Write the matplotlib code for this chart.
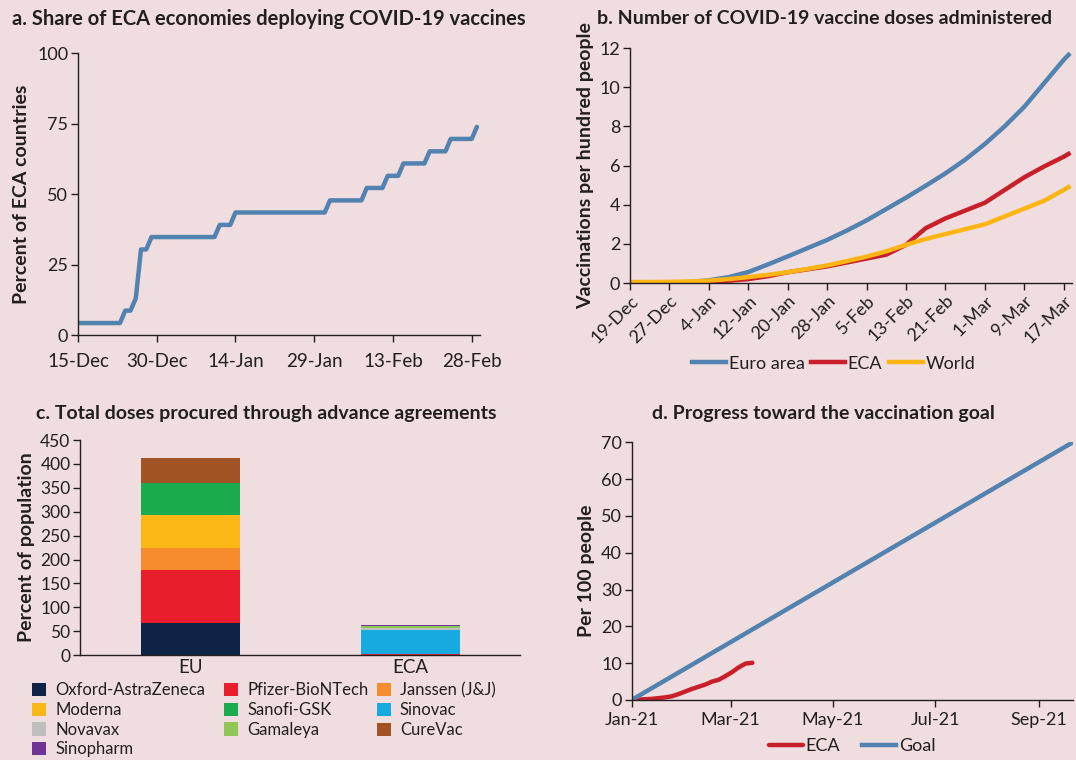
import pandas as pd
import matplotlib.pyplot as plt
from matplotlib.patches import Patch

# ---- panel a: share of ECA economies deploying vaccines (daily, %) ----
a_start = '2020-12-15'
a_share = [4.3, 4.3, 4.3, 4.3, 4.3, 4.3, 4.3, 4.3, 4.3, 8.7,
           8.7, 13.0, 30.4, 30.4, 34.8, 34.8, 34.8, 34.8, 34.8, 34.8,
           34.8, 34.8, 34.8, 34.8, 34.8, 34.8, 34.8, 39.1, 39.1, 39.1,
           43.5, 43.5, 43.5, 43.5, 43.5, 43.5, 43.5, 43.5, 43.5, 43.5,
           43.5, 43.5, 43.5, 43.5, 43.5, 43.5, 43.5, 43.5, 47.8, 47.8,
           47.8, 47.8, 47.8, 47.8, 47.8, 52.2, 52.2, 52.2, 52.2, 56.5,
           56.5, 56.5, 60.9, 60.9, 60.9, 60.9, 60.9, 65.2, 65.2, 65.2,
           65.2, 69.6, 69.6, 69.6, 69.6, 69.6, 73.9]
a_ticks = ['2020-12-15', '2020-12-30', '2021-01-14', '2021-01-29', '2021-02-13', '2021-02-28']
a_ticklabels = ['15-Dec', '30-Dec', '14-Jan', '29-Jan', '13-Feb', '28-Feb']

# ---- panel b: vaccine doses administered per hundred people ----
b_dates = ['2020-12-19', '2020-12-23', '2020-12-27', '2020-12-31', '2021-01-04', '2021-01-08',
           '2021-01-12', '2021-01-16', '2021-01-20', '2021-01-24', '2021-01-28', '2021-02-01',
           '2021-02-05', '2021-02-09', '2021-02-13', '2021-02-17', '2021-02-21', '2021-02-25',
           '2021-03-01', '2021-03-05', '2021-03-09', '2021-03-13', '2021-03-17', '2021-03-18']
b_euro = [0, 0, 0.02, 0.05, 0.14, 0.3, 0.56, 0.95, 1.36, 1.78, 2.2, 2.68, 3.2, 3.78, 4.36,
          4.97, 5.6, 6.3, 7.1, 8.0, 9.0, 10.2, 11.4, 11.66]
b_eca = [0, 0, 0, 0.02, 0.07, 0.12, 0.2, 0.35, 0.55, 0.7, 0.85, 1.05, 1.25, 1.45, 1.95,
         2.8, 3.3, 3.7, 4.1, 4.75, 5.4, 5.95, 6.45, 6.6]
b_world = [0.05, 0.05, 0.06, 0.08, 0.12, 0.2, 0.3, 0.42, 0.55, 0.72, 0.9, 1.12, 1.35, 1.62,
           1.95, 2.25, 2.5, 2.75, 3.0, 3.4, 3.8, 4.2, 4.75, 4.9]
b_ticks = ['2020-12-19', '2020-12-27', '2021-01-04', '2021-01-12', '2021-01-20', '2021-01-28',
           '2021-02-05', '2021-02-13', '2021-02-21', '2021-03-01', '2021-03-09', '2021-03-17']
b_ticklabels = ['19-Dec', '27-Dec', '4-Jan', '12-Jan', '20-Jan', '28-Jan',
                '5-Feb', '13-Feb', '21-Feb', '1-Mar', '9-Mar', '17-Mar']

# ---- panel c: total doses procured (percent of population) ----
c_groups = ['EU', 'ECA']
c_vaccines = ['Oxford-AstraZeneca', 'Pfizer-BioNTech', 'Janssen (J&J)', 'Moderna', 'Sanofi-GSK',
              'Sinovac', 'Novavax', 'Gamaleya', 'CureVac', 'Sinopharm']
c_eu = [67, 111, 46, 69, 67, 0, 0, 0, 52, 0]
c_eca = [0, 3, 0, 0, 0, 50, 4, 3, 0, 4]
c_colors = ['#0e2346', '#ea1d2c', '#f68c2e', '#fbb716', '#1aab4c', '#17aae0',
            '#bebebe', '#8fc655', '#a15323', '#6e3597']

# ---- panel d: progress toward the vaccination goal ----
d_dates = ['2021-01-01', '2021-01-05', '2021-01-09', '2021-01-13', '2021-01-17', '2021-01-21',
           '2021-01-25', '2021-01-29', '2021-02-02', '2021-02-06', '2021-02-10', '2021-02-14',
           '2021-02-18', '2021-02-22', '2021-02-26', '2021-03-02', '2021-03-06', '2021-03-10',
           '2021-03-14']
d_eca = [0, 0.1, 0.2, 0.3, 0.5, 0.7, 1.0, 1.6, 2.3, 3.0, 3.6, 4.2, 5.0, 5.5, 6.5, 7.6, 8.9, 9.9, 10.1]
d_goal_dates = ['2021-01-01', '2021-09-21']
d_goal = [0, 70]
d_ticks = ['2021-01-01', '2021-03-01', '2021-05-01', '2021-07-01', '2021-09-01']
d_ticklabels = ['Jan-21', 'Mar-21', 'May-21', 'Jul-21', 'Sep-21']

BG = '#efdde0'
BLUE = '#5282b0'
RED = '#c81f2a'
YELLOW = '#fdb515'
INK = '#231f20'

TITLE_FS = 14
YLABEL_FS = 14
TICK_FS = 13

plt.rcParams['font.family'] = ['Lato', 'DejaVu Sans']
plt.rcParams['text.color'] = INK
plt.rcParams['axes.labelcolor'] = INK
plt.rcParams['xtick.color'] = INK
plt.rcParams['ytick.color'] = INK


def style(ax):
    ax.set_facecolor(BG)
    for s in ['top', 'right']:
        ax.spines[s].set_visible(False)
    for s in ['left', 'bottom']:
        ax.spines[s].set_color(INK)
        ax.spines[s].set_linewidth(1.0)
    ax.tick_params(labelsize=TICK_FS, length=5, width=1, pad=2)


fig = plt.figure(figsize=(10.76, 7.6), dpi=100)
fig.patch.set_facecolor(BG)

# panel a
ax = fig.add_axes([0.0725, 0.559, 0.374, 0.371])
style(ax)
a_x = pd.date_range(a_start, periods=len(a_share), freq='D')
ax.plot(a_x, a_share, color=BLUE, lw=3.2, solid_capstyle='round')
ax.set_ylim(0, 100)
ax.set_yticks([0, 25, 50, 75, 100])
ax.set_xlim(pd.Timestamp('2020-12-15'), pd.Timestamp('2021-03-01 16:00'))
ax.set_xticks(pd.to_datetime(a_ticks))
ax.set_xticklabels(a_ticklabels)
ax.tick_params(axis='x', labelsize=13.5, pad=8)
ax.set_ylabel('Percent of ECA countries', fontsize=YLABEL_FS, fontweight='bold', labelpad=5)
fig.text(0.011, 0.975, 'a. Share of ECA economies deploying COVID-19 vaccines',
         fontsize=14.5, fontweight='bold', va='center', ha='left')

# panel b
ax = fig.add_axes([0.5855, 0.6276, 0.411, 0.309])
style(ax)
bx = pd.to_datetime(b_dates)
ax.plot(bx, b_euro, color=BLUE, lw=3.2, label='Euro area')
ax.plot(bx, b_eca, color=RED, lw=3.2, label='ECA')
ax.plot(bx, b_world, color=YELLOW, lw=3.2, label='World')
ax.set_ylim(0, 12)
ax.set_yticks(range(0, 13, 2))
ax.set_xlim(pd.Timestamp('2020-12-19'), pd.Timestamp('2021-03-18 18:00'))
ax.set_xticks(pd.to_datetime(b_ticks))
ax.set_xticklabels(b_ticklabels, rotation=45, ha='right', rotation_mode='anchor')
ax.set_ylabel('Vaccinations per hundred people', fontsize=YLABEL_FS, fontweight='bold', labelpad=4)
ax.legend(loc='upper center', bbox_to_anchor=(0.46, -0.24), ncol=3, frameon=False,
          fontsize=13, handlelength=1.9, handletextpad=0.15, columnspacing=0.35)
fig.text(0.555, 0.975, 'b. Number of COVID-19 vaccine doses administered',
         fontsize=TITLE_FS, fontweight='bold', va='center', ha='left')

# panel c
ax = fig.add_axes([0.0745, 0.138, 0.409, 0.283])
style(ax)
bottom_eu = 0
bottom_eca = 0
for name, eu, eca, col in zip(c_vaccines, c_eu, c_eca, c_colors):
    ax.bar(c_groups, [eu, eca], width=0.45, bottom=[bottom_eu, bottom_eca], color=col, label=name)
    bottom_eu += eu
    bottom_eca += eca
ax.set_xlim(-0.5, 1.5)
ax.set_ylim(0, 450)
ax.set_yticks(range(0, 451, 50))
ax.tick_params(axis='x', length=0, pad=3, labelsize=13.5)
ax.tick_params(axis='y', labelsize=12.5)
ax.set_ylabel('Percent of population', fontsize=YLABEL_FS, fontweight='bold', labelpad=4)
fig.text(0.033, 0.456, 'c. Total doses procured through advance agreements',
         fontsize=TITLE_FS, fontweight='bold', va='center', ha='left')

# legend below panel c: three columns, read row by row
col_x = [0.030, 0.208, 0.350]
for k, x0 in enumerate(col_x):
    idx = list(range(k, len(c_vaccines), 3))
    handles = [Patch(facecolor=c_colors[i], label=c_vaccines[i]) for i in idx]
    fig.legend(handles=handles, loc='upper left', bbox_to_anchor=(x0, 0.102),
               frameon=False, fontsize=12, handlelength=0.85, handleheight=0.85,
               handletextpad=0.55, labelspacing=0.22, borderaxespad=0, borderpad=0)

# panel d
ax = fig.add_axes([0.587, 0.079, 0.41, 0.339])
style(ax)
ax.plot(pd.to_datetime(d_dates), d_eca, color=RED, lw=3.2, label='ECA', solid_capstyle='round')
ax.plot(pd.to_datetime(d_goal_dates), d_goal, color=BLUE, lw=3.2, label='Goal')
ax.set_ylim(0, 70)
ax.set_yticks(range(0, 71, 10))
ax.set_xlim(pd.Timestamp('2021-01-01'), pd.Timestamp('2021-09-21'))
ax.set_xticks(pd.to_datetime(d_ticks))
ax.set_xticklabels(d_ticklabels)
ax.tick_params(axis='x', pad=4)
ax.set_ylabel('Per 100 people', fontsize=YLABEL_FS, fontweight='bold', labelpad=4)
ax.legend(loc='upper center', bbox_to_anchor=(0.5, -0.1), ncol=2, frameon=False,
          fontsize=13, handlelength=1.9, handletextpad=0.15, columnspacing=1.2,
          borderpad=0.2)
fig.text(0.606, 0.456, 'd. Progress toward the vaccination goal',
         fontsize=TITLE_FS, fontweight='bold', va='center', ha='left')

fig.savefig('out.png', dpi=100, facecolor=BG)
